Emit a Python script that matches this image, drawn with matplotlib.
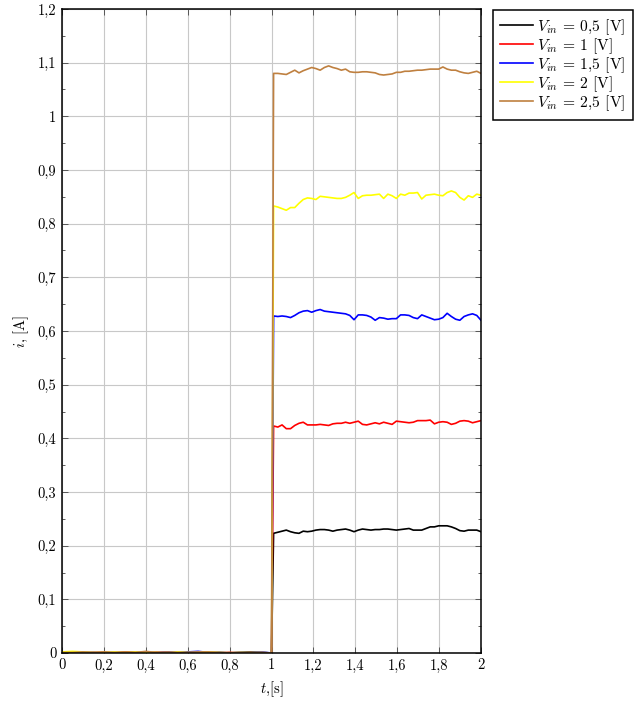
import numpy as np
import matplotlib
matplotlib.use("Agg")
import matplotlib.pyplot as plt
from matplotlib.ticker import MultipleLocator

plt.rcParams['font.family'] = 'serif'
plt.rcParams['font.serif'] = ['cmr10', 'DejaVu Serif']
plt.rcParams['mathtext.fontset'] = 'cm'
plt.rcParams['axes.unicode_minus'] = False

# time grids
t_pre = [0.0, 0.05, 0.1, 0.15, 0.2, 0.25, 0.3, 0.35, 0.4, 0.45, 0.5,
         0.55, 0.6, 0.65, 0.7, 0.75, 0.8, 0.85, 0.9, 0.95, 1.0]
t_post = list(np.linspace(1.01, 2.0, 50))

# pre-step values (near zero)
pre_05 = [0.001, 0.000, 0.001, 0.000, 0.001, 0.000, 0.001, 0.001, 0.000, 0.001, 0.000,
          0.001, 0.000, 0.001, 0.000, 0.001, 0.000, 0.001, 0.002, 0.001, 0.0]
pre_10 = [0.000, 0.001, 0.000, 0.001, 0.001, 0.000, 0.002, 0.001, 0.000, 0.001, 0.001,
          0.000, 0.001, 0.002, 0.001, 0.000, 0.001, 0.000, 0.001, 0.000, 0.0]
pre_15 = [0.001, 0.000, 0.001, 0.001, 0.000, 0.001, 0.000, 0.001, 0.001, 0.000, 0.002,
          0.001, 0.002, 0.003, 0.001, 0.001, 0.000, 0.001, 0.001, 0.002, 0.0]
pre_20 = [0.002, 0.003, 0.002, 0.001, 0.001, 0.002, 0.001, 0.002, 0.001, 0.001, 0.000,
          0.002, 0.001, 0.001, 0.002, 0.001, 0.000, 0.001, 0.001, 0.001, 0.0]
pre_25 = [0.001, 0.001, 0.002, 0.001, 0.002, 0.001, 0.002, 0.001, 0.003, 0.001, 0.002,
          0.001, 0.001, 0.002, 0.002, 0.001, 0.001, 0.001, 0.000, 0.001, 0.0]

# post-step values
post_05 = [0.223, 0.225, 0.227, 0.229, 0.226, 0.224, 0.223, 0.227, 0.226, 0.227,
           0.229, 0.230, 0.230, 0.229, 0.227, 0.229, 0.230, 0.231, 0.229, 0.226,
           0.229, 0.231, 0.230, 0.229, 0.230, 0.230, 0.231, 0.231, 0.230, 0.229,
           0.230, 0.231, 0.232, 0.229, 0.229, 0.229, 0.232, 0.235, 0.235, 0.237,
           0.237, 0.237, 0.235, 0.232, 0.228, 0.227, 0.229, 0.229, 0.229, 0.226]
post_10 = [0.423, 0.421, 0.425, 0.418, 0.418, 0.424, 0.428, 0.430, 0.425, 0.425,
           0.425, 0.426, 0.425, 0.424, 0.427, 0.428, 0.428, 0.430, 0.428, 0.430,
           0.432, 0.426, 0.425, 0.427, 0.429, 0.427, 0.430, 0.428, 0.426, 0.432,
           0.431, 0.430, 0.429, 0.430, 0.433, 0.433, 0.433, 0.434, 0.427, 0.430,
           0.431, 0.430, 0.426, 0.428, 0.432, 0.433, 0.432, 0.429, 0.431, 0.433]
post_15 = [0.628, 0.627, 0.628, 0.627, 0.625, 0.629, 0.634, 0.637, 0.638, 0.635,
           0.638, 0.640, 0.637, 0.636, 0.635, 0.634, 0.633, 0.632, 0.629, 0.621,
           0.630, 0.630, 0.629, 0.626, 0.620, 0.625, 0.624, 0.622, 0.623, 0.623,
           0.630, 0.630, 0.629, 0.625, 0.623, 0.630, 0.627, 0.624, 0.621, 0.622,
           0.625, 0.633, 0.627, 0.622, 0.620, 0.627, 0.630, 0.632, 0.629, 0.620]
post_20 = [0.833, 0.831, 0.828, 0.825, 0.830, 0.830, 0.838, 0.845, 0.848, 0.847,
           0.845, 0.851, 0.850, 0.849, 0.848, 0.847, 0.847, 0.849, 0.853, 0.858,
           0.847, 0.852, 0.853, 0.853, 0.854, 0.855, 0.847, 0.855, 0.852, 0.847,
           0.855, 0.853, 0.857, 0.857, 0.858, 0.846, 0.853, 0.854, 0.855, 0.853,
           0.852, 0.858, 0.861, 0.858, 0.849, 0.844, 0.852, 0.849, 0.855, 0.853]
post_25 = [1.080, 1.080, 1.079, 1.078, 1.082, 1.086, 1.081, 1.085, 1.088, 1.091,
           1.089, 1.086, 1.091, 1.094, 1.091, 1.089, 1.086, 1.088, 1.083, 1.082,
           1.082, 1.083, 1.083, 1.082, 1.081, 1.078, 1.077, 1.078, 1.079, 1.082,
           1.082, 1.084, 1.084, 1.085, 1.086, 1.086, 1.087, 1.088, 1.088, 1.088,
           1.092, 1.088, 1.086, 1.086, 1.083, 1.081, 1.080, 1.082, 1.084, 1.080]

series_labels = [r"$V_{in}$ = 0,5 [V]", r"$V_{in}$ = 1 [V]", r"$V_{in}$ = 1,5 [V]",
                 r"$V_{in}$ = 2 [V]", r"$V_{in}$ = 2,5 [V]"]
series_colors = ["black", "#ff0000", "#0000ff", "#ffff00", "#bf8040"]
series_pre = [pre_05, pre_10, pre_15, pre_20, pre_25]
series_post = [post_05, post_10, post_15, post_20, post_25]

x_ticks = [0, 0.2, 0.4, 0.6, 0.8, 1.0, 1.2, 1.4, 1.6, 1.8, 2.0]
x_ticklabels = ["0", "0,2", "0,4", "0,6", "0,8", "1", "1,2", "1,4", "1,6", "1,8", "2"]
y_ticks = [0, 0.1, 0.2, 0.3, 0.4, 0.5, 0.6, 0.7, 0.8, 0.9, 1.0, 1.1, 1.2]
y_ticklabels = ["0", "0,1", "0,2", "0,3", "0,4", "0,5", "0,6", "0,7", "0,8", "0,9", "1", "1,1", "1,2"]

fig = plt.figure(figsize=(6.44, 7.02), dpi=100)
ax = fig.add_axes([62/644, 49/702, 419/644, 644/702])

for lab, col, pre, post in zip(series_labels, series_colors, series_pre, series_post):
    ax.plot(t_pre + t_post, pre + post, color=col, lw=1.2, label=lab)

ax.set_xlim(0, 2)
ax.set_ylim(0, 1.2)
ax.set_xticks(x_ticks)
ax.set_xticklabels(x_ticklabels)
ax.set_yticks(y_ticks)
ax.set_yticklabels(y_ticklabels)
ax.yaxis.set_minor_locator(MultipleLocator(0.05))
ax.tick_params(which='both', direction='in', top=True, right=True, labelsize=10.5,
               width=0.6, color='#444444')
ax.tick_params(which='major', length=4, pad=4)
ax.tick_params(which='minor', length=2.5)
ax.grid(True, which='major', color='#c8c8c8', lw=0.8)
ax.set_axisbelow(True)
for s in ax.spines.values():
    s.set_linewidth(1.1)
    s.set_color('black')

ax.set_xlabel(r"$t$,[s]", fontsize=10.5, labelpad=5)
ax.set_ylabel(r"$i$, [A]", fontsize=10.5, labelpad=5)

leg = ax.legend(loc='upper left', bbox_to_anchor=(493/644, 1 - 10/702),
                bbox_transform=fig.transFigure, fancybox=False, framealpha=1,
                edgecolor='black', fontsize=11.2, handlelength=2.1,
                handletextpad=0.3, labelspacing=-0.04, borderpad=0.45,
                borderaxespad=0)
leg.get_frame().set_linewidth(1.1)

fig.savefig("out.png", dpi=100)
